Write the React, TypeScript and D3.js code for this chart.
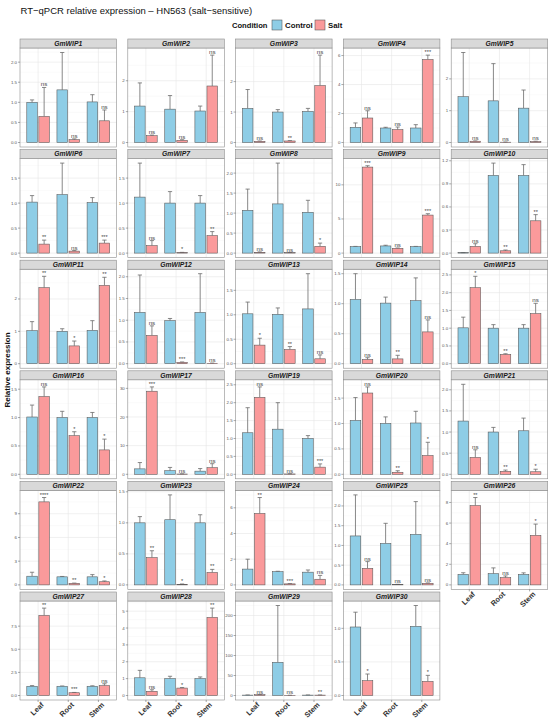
import React from 'react';
import * as d3 from 'd3';

// facet order (GmWIP18 is absent in the source figure)
const genes = [
  'GmWIP1', 'GmWIP2', 'GmWIP3', 'GmWIP4', 'GmWIP5',
  'GmWIP6', 'GmWIP7', 'GmWIP8', 'GmWIP9', 'GmWIP10',
  'GmWIP11', 'GmWIP12', 'GmWIP13', 'GmWIP14', 'GmWIP15',
  'GmWIP16', 'GmWIP17', 'GmWIP19', 'GmWIP20', 'GmWIP21',
  'GmWIP22', 'GmWIP23', 'GmWIP24', 'GmWIP25', 'GmWIP26',
  'GmWIP27', 'GmWIP28', 'GmWIP29', 'GmWIP30',
];
const tissues = ['Leaf', 'Root', 'Stem'];
const conditions = ['Control', 'Salt'];

// [Leaf, Root, Stem] per gene
const controlMean: (number | null)[][] = [
  [1.0, 1.31, 1.01], [1.18, 1.08, 1.02], [1.12, 1.0, 1.02], [1.05, 1.0, 1.0], [1.44, 1.31, 1.08],
  [1.02, 1.17, 1.01], [1.12, 1.0, 1.0], [1.07, 1.23, 1.02], [0.95, 1.05, 0.95], [0.005, 1.01, 1.01],
  [1.02, 1.0, 1.03], [1.18, 0.99, 1.18], [1.02, 1.01, 1.12], [1.07, 1.01, 1.05], [1.01, 1.0, 1.0],
  [1.01, 1.0, 1.0], [1.9, 1.25, 1.1], [1.16, 1.26, 1.0], [1.06, 1.0, 1.01], [1.26, 1.0, 1.03],
  [1.1, 1.02, 1.02], [1.0, 1.05, 1.0], [1.23, 1.03, 0.99], [1.24, 1.05, 1.28], [1.02, 1.09, 1.02],
  [1.0, 1.0, 1.0], [1.05, 1.0, 1.0], [1.0, 83, 1.0], [1.02, null, 1.03],
];
const controlSd: (number | null)[][] = [
  [0.06, 0.93, 0.18], [0.75, 0.44, 0.16], [0.62, 0.08, 0.1], [0.3, 0.05, 0.23], [1.39, 1.17, 0.57],
  [0.13, 0.63, 0.1], [0.68, 0.23, 0.15], [0.53, 1.02, 0.3], [0.03, 0.1, 0.03], [0.001, 0.16, 0.14],
  [0.28, 0.08, 0.3], [0.86, 0.05, 0.89], [0.24, 0.13, 0.72], [0.43, 0.1, 0.38], [0.3, 0.1, 0.1],
  [0.21, 0.11, 0.09], [2.2, 1.15, 0.9], [0.7, 0.74, 0.08], [0.45, 0.13, 0.23], [0.87, 0.11, 0.3],
  [0.5, 0.05, 0.28], [0.1, 0.4, 0.13], [0.77, 0.03, 0.17], [1.04, 0.51, 0.83], [0.16, 0.56, 0.15],
  [0.07, 0.03, 0.05], [0.44, 0.14, 0.1], [0.3, 142, 0.3], [0.22, null, 0.31],
];
const saltMean: (number | null)[][] = [
  [0.65, 0.07, 0.54], [0.22, 0.07, 1.83], [0.04, 0.05, 1.87], [1.69, 0.89, 5.73], [0.04, 0.01, 0.03],
  [0.18, 0.04, 0.2], [0.15, 0.01, 0.35], [0.02, 0.01, 0.17], [12.6, 0.7, 5.57], [0.087, 0.03, 0.42],
  [2.35, 0.55, 2.42], [0.65, 0.03, 0.01], [0.38, 0.29, 0.1], [0.07, 0.08, 0.53], [2.14, 0.26, 1.41],
  [1.37, 0.68, 0.43], [29.0, 0.1, 2.3], [2.15, 0.01, 0.2], [1.6, 0.04, 0.37], [0.4, 0.07, 0.06],
  [10.5, 0.2, 0.4], [0.44, 0.01, 0.2], [5.56, 0.08, 0.44], [0.42, 0.01, 0.04], [7.7, 0.71, 4.81],
  [8.66, 0.3, 1.07], [0.25, 0.44, 4.63], [2.0, 0.5, 1.0], [0.22, null, 0.21],
];
const saltSd: (number | null)[][] = [
  [0.72, 0.02, 0.27], [0.02, 0.02, 1.0], [0.01, 0.01, 1.0], [0.5, 0.18, 0.3], [0.01, 0.005, 0.01],
  [0.08, 0.01, 0.06], [0.1, 0.005, 0.08], [0.01, 0.005, 0.08], [0.2, 0.05, 0.2], [0.035, 0.01, 0.08],
  [0.35, 0.15, 0.25], [0.22, 0.01, 0.005], [0.14, 0.06, 0.08], [0.03, 0.06, 0.2], [0.32, 0.02, 0.29],
  [0.17, 0.07, 0.19], [1.5, 0.05, 1.4], [0.29, 0.005, 0.09], [0.12, 0.03, 0.26], [0.18, 0.03, 0.06],
  [0.55, 0.03, 0.1], [0.11, 0.005, 0.05], [1.24, 0.02, 0.3], [0.17, 0.005, 0.01], [0.78, 0.16, 1.09],
  [0.79, 0.03, 0.2], [0.09, 0.03, 0.55], [0.5, 0.2, 0.3], [0.1, null, 0.09],
];
const saltSig: string[][] = [
  ['ns', 'ns', 'ns'], ['ns', 'ns', 'ns'], ['ns', '**', 'ns'], ['ns', 'ns', '***'], ['ns', 'ns', 'ns'],
  ['**', 'ns', '***'], ['ns', '*', '**'], ['ns', 'ns', '*'], ['***', 'ns', '***'], ['ns', '**', '**'],
  ['**', '*', '**'], ['ns', '***', 'ns'], ['*', '**', 'ns'], ['ns', '**', 'ns'], ['*', '**', 'ns'],
  ['ns', '*', '*'], ['***', 'ns', 'ns'], ['ns', 'ns', '***'], ['ns', '**', '*'], ['ns', '**', '*'],
  ['****', '**', '*'], ['**', '*', '**'], ['**', '***', 'ns'], ['ns', 'ns', 'ns'], ['**', 'ns', '*'],
  ['**', '***', 'ns'], ['ns', '*', '**'], ['ns', 'ns', '**'], ['*', '', '*'],
];
const yTicks: number[][] = [
  [0, 0.5, 1, 1.5, 2], [0, 1, 2], [0, 1, 2], [0, 2, 4, 6], [0, 1, 2],
  [0, 0.5, 1, 1.5], [0, 0.5, 1, 1.5], [0, 0.5, 1, 1.5, 2], [0, 5, 10], [0, 0.3, 0.6, 0.9, 1.2],
  [0, 1, 2], [0, 0.5, 1, 1.5, 2], [0, 0.5, 1, 1.5], [0, 0.5, 1, 1.5], [0, 0.5, 1, 1.5, 2, 2.5],
  [0, 0.5, 1, 1.5], [0, 10, 20, 30], [0, 0.5, 1, 1.5, 2, 2.5], [0, 0.5, 1, 1.5], [0, 0.5, 1, 1.5, 2],
  [0, 3, 6, 9], [0, 0.5, 1, 1.5], [0, 2, 4, 6], [0, 0.5, 1, 1.5, 2], [0, 2, 4, 6, 8],
  [0, 2.5, 5, 7.5], [0, 1, 2, 3, 4, 5], [0, 50, 100, 150, 200], [0, 0.5, 1],
];

const W = 550, H = 721;
const nCol = 5;
const colX0 = 20, colStep = 107.8, panelW = 96.5;
const rowY0 = 39, rowStep = 110.6, stripH = 9, plotH = 99;
const font = '"Liberation Sans", Arial, Helvetica, sans-serif';
const fills: Record<string, string> = { Control: '#8ECDE6', Salt: '#FA9A9B' };

const decimals = (ticks: number[]) =>
  d3.max(ticks, t => {
    const s = String(t);
    const i = s.indexOf('.');
    return i < 0 ? 0 : s.length - i - 1;
  }) ?? 0;

interface Bar { tissue: string; cond: string; mean: number; sd: number; sig: string }

const Panel = ({ i }: { i: number }) => {
  const col = i % nCol, row = Math.floor(i / nCol);
  const x0 = colX0 + col * colStep;
  const y0 = rowY0 + row * rowStep;
  const top = y0 + stripH, bottom = top + plotH;

  const bars: Bar[] = [];
  tissues.forEach((t, k) => {
    const cm = controlMean[i][k], sm = saltMean[i][k];
    if (cm != null) bars.push({ tissue: t, cond: 'Control', mean: cm, sd: controlSd[i][k] ?? 0, sig: '' });
    if (sm != null) bars.push({ tissue: t, cond: 'Salt', mean: sm, sd: saltSd[i][k] ?? 0, sig: saltSig[i][k] });
  });

  const errMax = d3.max(bars, b => b.mean + b.sd) ?? 1;
  const labMax = d3.max(bars.filter(b => b.sig), b => b.mean + b.sd + 0.03 * errMax) ?? 0;
  const dataMax = Math.max(errMax, labMax);
  const y = d3.scaleLinear().domain([-0.05 * dataMax, 1.05 * dataMax]).range([bottom, top]);

  const x = d3.scalePoint<string>().domain(tissues).range([x0, x0 + panelW]).padding(0.6);
  const s = x.step();
  const xs = d3.scaleBand<string>().domain(conditions).range([-0.4 * s, 0.4 * s])
    .paddingInner(0.125).paddingOuter(0.0625);
  const bw = xs.bandwidth();
  const cap = 0.14 * s;

  const ticks = yTicks[i];
  const dec = decimals(ticks);
  const step = ticks[1] - ticks[0];
  const [d0, d1] = y.domain();
  const minors = [ticks[0] - step / 2, ...ticks.map(t => t + step / 2)].filter(v => v > d0 && v < d1);
  const showX = i + nCol >= genes.length;

  return (
    <g>
      <rect x={x0} y={top} width={panelW} height={plotH} fill="#fff" />
      {minors.map(v => (
        <line key={'m' + v} x1={x0} x2={x0 + panelW} y1={y(v)} y2={y(v)} stroke="#F2F2F2" strokeWidth={0.4} />
      ))}
      {ticks.map(v => (
        <line key={'g' + v} x1={x0} x2={x0 + panelW} y1={y(v)} y2={y(v)} stroke="#E6E6E6" strokeWidth={0.6} />
      ))}
      {tissues.map(t => (
        <line key={'v' + t} x1={x(t)} x2={x(t)} y1={top} y2={bottom} stroke="#E6E6E6" strokeWidth={0.6} />
      ))}
      {bars.map(b => {
        const bx = (x(b.tissue) ?? 0) + (xs(b.cond) ?? 0);
        const cx = bx + bw / 2;
        return (
          <g key={b.tissue + b.cond}>
            <line x1={cx} x2={cx} y1={y(b.mean)} y2={y(b.mean + b.sd)} stroke="#6b6b6b" strokeWidth={0.8} />
            <line x1={cx - cap / 2} x2={cx + cap / 2} y1={y(b.mean + b.sd)} y2={y(b.mean + b.sd)} stroke="#6b6b6b" strokeWidth={0.8} />
            <rect x={bx} y={y(b.mean)} width={bw} height={Math.max(0.3, y(0) - y(b.mean))}
              fill={fills[b.cond]} stroke="#555" strokeWidth={0.55} />
          </g>
        );
      })}
      {bars.filter(b => b.sig).map(b => {
        const cx = (x(b.tissue) ?? 0) + (xs(b.cond) ?? 0) + bw / 2;
        return (
          <text key={'s' + b.tissue} x={cx} y={y(b.mean + b.sd) - 1} textAnchor="middle"
            fontSize={b.sig === 'ns' ? 6.2 : 5.6} fill="#444" fontFamily={font}>{b.sig}</text>
        );
      })}
      <rect x={x0} y={top} width={panelW} height={plotH} fill="none" stroke="#8c8c8c" strokeWidth={0.6} />
      <rect x={x0} y={y0} width={panelW} height={stripH} fill="#D9D9D9" stroke="#8c8c8c" strokeWidth={0.6} />
      <text x={x0 + panelW / 2} y={y0 + stripH / 2 + 2.3} textAnchor="middle" fontSize={6.8}
        fontWeight="bold" fontStyle="italic" fill="#1a1a1a" fontFamily={font}>{genes[i]}</text>
      {ticks.map(v => (
        <g key={'t' + v}>
          <line x1={x0 - 2} x2={x0} y1={y(v)} y2={y(v)} stroke="#555" strokeWidth={0.5} />
          <text x={x0 - 3} y={y(v) + 1.5} textAnchor="end" fontSize={4.4} fill="#555" fontFamily={font}>
            {v.toFixed(dec)}
          </text>
        </g>
      ))}
      {showX && tissues.map(t => (
        <g key={'x' + t}>
          <line x1={x(t)} x2={x(t)} y1={bottom} y2={bottom + 2} stroke="#555" strokeWidth={0.5} />
          <text transform={`translate(${(x(t) ?? 0) + 2.5},${bottom + 1.5}) rotate(-45)`} textAnchor="end"
            dy="0.72em" fontSize={7.4} fontWeight="bold" fill="#333" fontFamily={font}>{t}</text>
        </g>
      ))}
    </g>
  );
};

export default function App() {
  return (
    <svg width={W} height={H} style={{ position: 'absolute', left: 0, top: 0, background: '#fff' }}>
      <rect width={W} height={H} fill="#fff" />
      <text x={20.5} y={13.5} fontSize={9.5} fill="#111" fontFamily={font}>
        RT−qPCR relative expression – HN563 (salt−sensitive)
      </text>
      <g fontFamily={font}>
        <text x={232} y={27.5} fontSize={7.6} fontWeight="bold" fill="#111">Condition</text>
        {conditions.map((c, k) => {
          const lx = 272 + k * 43;
          return (
            <g key={c}>
              <rect x={lx} y={20} width={10} height={10} fill={fills[c]} stroke="#555" strokeWidth={0.55} />
              <text x={lx + 13} y={27.8} fontSize={7.8} fontWeight="bold" fill="#111">{c}</text>
            </g>
          );
        })}
      </g>
      <text transform="translate(9.5,370) rotate(-90)" textAnchor="middle" fontSize={8} fontWeight="bold"
        fill="#111" fontFamily={font}>Relative expression</text>
      {genes.map((g, i) => <Panel key={g} i={i} />)}
    </svg>
  );
}
